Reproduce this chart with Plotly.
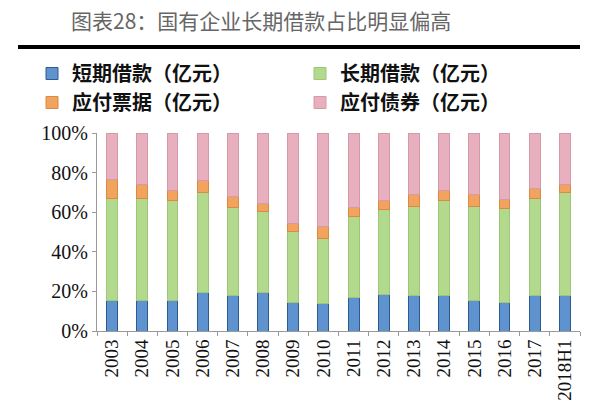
import plotly.graph_objects as go

years = ["2003", "2004", "2005", "2006", "2007", "2008", "2009", "2010",
         "2011", "2012", "2013", "2014", "2015", "2016", "2017", "2018H1"]
# cumulative tops (%)
short_loan = [15.6, 15.6, 15.6, 19.5, 17.8, 19.5, 14.4, 13.9, 16.8, 18.2, 17.8, 17.8, 15.6, 14.4, 17.8, 17.8]
long_top = [67.0, 67.0, 66.0, 70.0, 62.6, 60.4, 50.4, 46.5, 58.0, 61.5, 62.8, 66.0, 62.8, 61.8, 66.9, 70.0]
bill_top = [76.5, 74.0, 71.0, 76.0, 67.7, 64.2, 54.3, 52.7, 62.6, 66.0, 69.1, 71.0, 68.8, 66.6, 72.2, 74.0]

long_loan = [round(b - a, 1) for a, b in zip(short_loan, long_top)]
bills = [round(b - a, 1) for a, b in zip(long_top, bill_top)]
bonds = [round(100 - b, 1) for b in bill_top]

names = ["短期借款（亿元）", "长期借款（亿元）", "应付票据（亿元）", "应付债券（亿元）"]
colors = ["#5E93CF", "#B3DA8C", "#F2A45E", "#E8AFBE"]
edges = ["#2F5A8E", "#9CC778", "#D98A45", "#D59AAA"]
legends = ["legend", "legend2", "legend", "legend2"]
series = [short_loan, long_loan, bills, bonds]

W, H = 600, 404
L, R, T, B = 97, 20, 133, 73
PW, PH = W - L - R, H - T - B


def px(x):
    return (x - L) / PW


def py(y):
    return (H - B - y) / PH


fig = go.Figure()
for n, c, e, lg, v in zip(names, colors, edges, legends, series):
    fig.add_trace(go.Bar(x=years, y=v, name=n, width=0.36, legend=lg,
                         marker=dict(color=c, line=dict(color=e, width=1))))

legfont = dict(family="Noto Sans CJK SC", size=20, color="#111", weight=700)
fig.update_layout(
    template="none",
    barmode="stack",
    width=W, height=H,
    margin=dict(l=L, r=R, t=T, b=B, autoexpand=False),
    paper_bgcolor="white", plot_bgcolor="white",
    showlegend=True,
    legend=dict(orientation="v", x=px(32), xanchor="left", y=py(54), yanchor="top",
                font=legfont, traceorder="normal", tracegroupgap=0,
                bgcolor="rgba(0,0,0,0)", itemwidth=30),
    legend2=dict(orientation="v", x=px(300), xanchor="left", y=py(54), yanchor="top",
                 font=legfont, traceorder="normal", tracegroupgap=0,
                 bgcolor="rgba(0,0,0,0)", itemwidth=30),
    annotations=[dict(text="图表28：国有企业长期借款占比明显偏高", x=px(261), y=py(20),
                      xref="paper", yref="paper", xanchor="center", yanchor="middle",
                      showarrow=False,
                      font=dict(family="Noto Sans CJK SC", size=21, color="#666"))],
    shapes=[dict(type="line", xref="paper", yref="paper",
                 x0=px(18), x1=px(580), y0=py(47), y1=py(47),
                 line=dict(color="black", width=4))],
)

fig.update_xaxes(type="category", tickangle=-90, showline=True, linecolor="#999",
                 linewidth=1, ticks="outside", tickson="boundaries", ticklen=4,
                 tickcolor="#999", showgrid=False, automargin=False,
                 tickfont=dict(family="Liberation Serif", size=19, color="#111"))
fig.update_yaxes(range=[0, 100], dtick=20, ticksuffix="%", showline=True,
                 linecolor="#999", linewidth=1, ticks="outside", ticklen=4,
                 tickcolor="#999", showgrid=False, zeroline=False, automargin=False,
                 tickfont=dict(family="Liberation Serif", size=20, color="#111"))

fig.write_html("out.html")
